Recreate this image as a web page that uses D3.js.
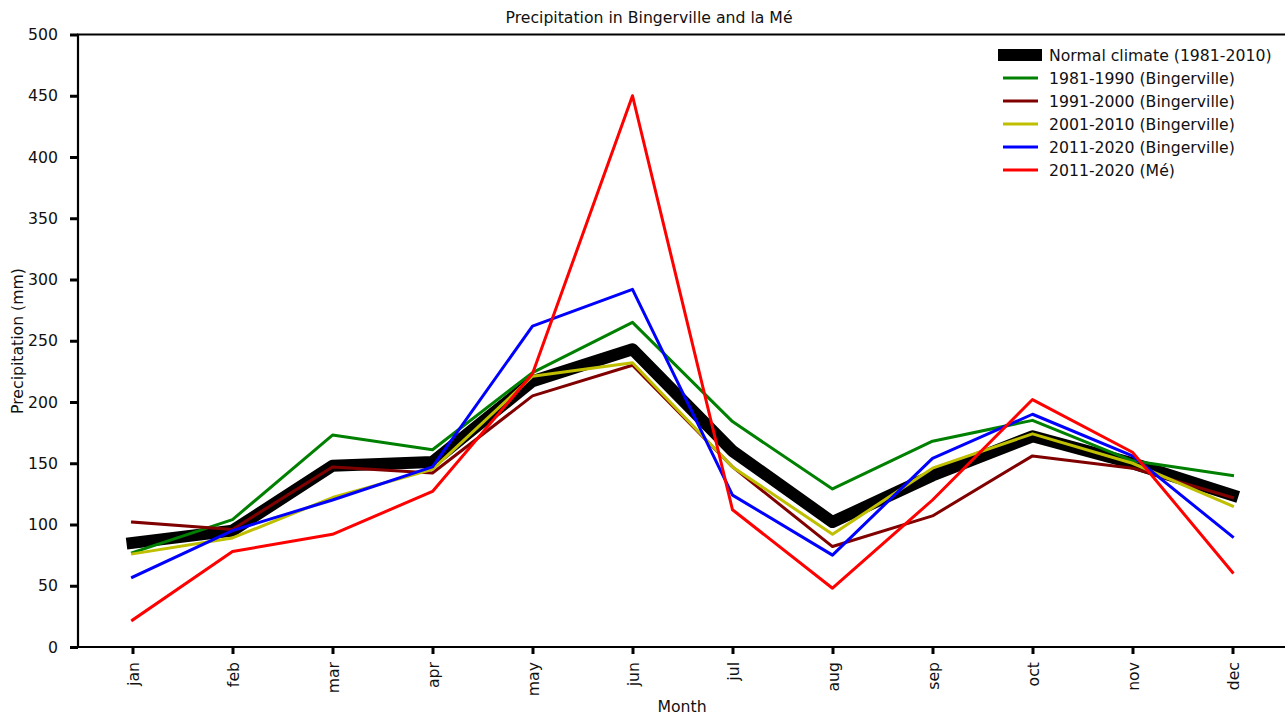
<!DOCTYPE html>
<html>
<head>
<meta charset="utf-8">
<script src="https://cdn.jsdelivr.net/npm/d3@7"></script>
<style>
  body { margin: 0; background: white; }
  svg { font-family: "DejaVu Sans", sans-serif; }
</style>
</head>
<body>
<div id="chart"></div>
<script>
const months = ["jan", "feb", "mar", "apr", "may", "jun", "jul", "aug", "sep", "oct", "nov", "dec"];
const yTicks = [0, 50, 100, 150, 200, 250, 300, 350, 400, 450, 500];

const normal = [85, 95, 148, 151, 217, 243, 160, 102, 140, 172, 150, 124];
const bing1981 = [77, 104, 173, 161, 224, 265, 184, 129, 168, 185, 152, 140];
const bing1991 = [102, 96, 147, 142, 205, 230, 147, 82, 107, 156, 146, 122];
const bing2001 = [76, 89, 122, 145, 221, 232, 147, 92, 146, 174, 150, 115];
const bing2011 = [57, 95, 120, 147, 262, 292, 124, 75, 154, 190, 156, 90];
const me2011 = [22, 78, 92, 127, 223, 450, 112, 48, 120, 202, 159, 61];

const seriesNames = [
    "Normal climate (1981-2010)",
    "1981-1990 (Bingerville)",
    "1991-2000 (Bingerville)",
    "2001-2010 (Bingerville)",
    "2011-2020 (Bingerville)",
    "2011-2020 (Mé)"
];
const seriesValues = [normal, bing1981, bing1991, bing2001, bing2011, me2011];
const seriesColors = ["#000000", "#008000", "#800000", "#bfbf00", "#0000ff", "#ff0000"];
const seriesWidths = [12, 3, 3, 3, 3, 3];

const width = 1285;
const height = 716;
const margin = { top: 34.5, right: -2, bottom: 69, left: 78 }; // right spine sits just past the window
const fontSize = "15.7px";

const svg = d3.select("#chart")
    .append("svg")
    .attr("width", width)
    .attr("height", height);

const x = d3.scalePoint()
    .domain(months)
    .range([margin.left, width - margin.right])
    .padding(0.545);

const y = d3.scaleLinear()
    .domain([0, 500])
    .range([height - margin.bottom, margin.top]);

// Title
svg.append("text")
    .attr("x", 649)
    .attr("y", 23)
    .attr("text-anchor", "middle")
    .attr("font-size", fontSize)
    .attr("fill", "#111")
    .text("Precipitation in Bingerville and la Mé");

// Lines
const line = d3.line()
    .x((d, i) => x(months[i]))
    .y(d => y(d));

seriesValues.forEach((vals, i) => {
    svg.append("path")
        .datum(vals)
        .attr("d", line)
        .attr("fill", "none")
        .attr("stroke", seriesColors[i])
        .attr("stroke-width", seriesWidths[i])
        .attr("stroke-linejoin", "round")
        .attr("stroke-linecap", "square");
});

// Axes
const xAxis = svg.append("g")
    .attr("transform", `translate(0, ${height - margin.bottom})`)
    .call(d3.axisBottom(x).tickSize(7).tickPadding(8));

xAxis.selectAll("text")
    .attr("transform", "rotate(-90)")
    .attr("text-anchor", "end")
    .attr("x", -15)
    .attr("y", 0)
    .attr("dy", "0.35em");

const yAxis = svg.append("g")
    .attr("transform", `translate(${margin.left}, 0)`)
    .call(d3.axisLeft(y).tickValues(yTicks).tickSize(8).tickPadding(12));

[xAxis, yAxis].forEach(g => {
    g.select(".domain").attr("stroke", "#000").attr("stroke-width", 2.2);
    g.selectAll(".tick line").attr("stroke", "#000").attr("stroke-width", 3);
    g.selectAll(".tick text").attr("font-size", fontSize).attr("fill", "#111")
        .attr("font-family", "DejaVu Sans, sans-serif");
});
xAxis.select(".domain").attr("d", `M${margin.left},0H${width}`);
yAxis.select(".domain").attr("d", `M0,${height - margin.bottom}V${margin.top}`);

// Top spine
svg.append("line")
    .attr("x1", margin.left - 1)
    .attr("x2", width)
    .attr("y1", margin.top)
    .attr("y2", margin.top)
    .attr("stroke", "#000")
    .attr("stroke-width", 2.2);

// Axis labels
svg.append("text")
    .attr("x", 682)
    .attr("y", 712)
    .attr("text-anchor", "middle")
    .attr("font-size", fontSize)
    .attr("fill", "#111")
    .text("Month");

svg.append("text")
    .attr("transform", "translate(23, 341) rotate(-90)")
    .attr("text-anchor", "middle")
    .attr("font-size", fontSize)
    .attr("fill", "#111")
    .text("Precipitation (mm)");

// Legend
const legend = svg.append("g")
    .attr("transform", "translate(998, 55)");

seriesNames.forEach((name, i) => {
    const row = legend.append("g").attr("transform", `translate(0, ${i * 23})`);
    if (i === 0) {
        row.append("rect")
            .attr("x", 0)
            .attr("y", -6)
            .attr("width", 44)
            .attr("height", 12)
            .attr("fill", seriesColors[i]);
    } else {
        row.append("line")
            .attr("x1", 5)
            .attr("x2", 40)
            .attr("y1", 0)
            .attr("y2", 0)
            .attr("stroke", seriesColors[i])
            .attr("stroke-width", seriesWidths[i]);
    }
    row.append("text")
        .attr("x", 51)
        .attr("y", 0)
        .attr("dy", "0.35em")
        .attr("font-size", fontSize)
        .attr("fill", "#111")
        .text(name);
});
</script>
</body>
</html>
